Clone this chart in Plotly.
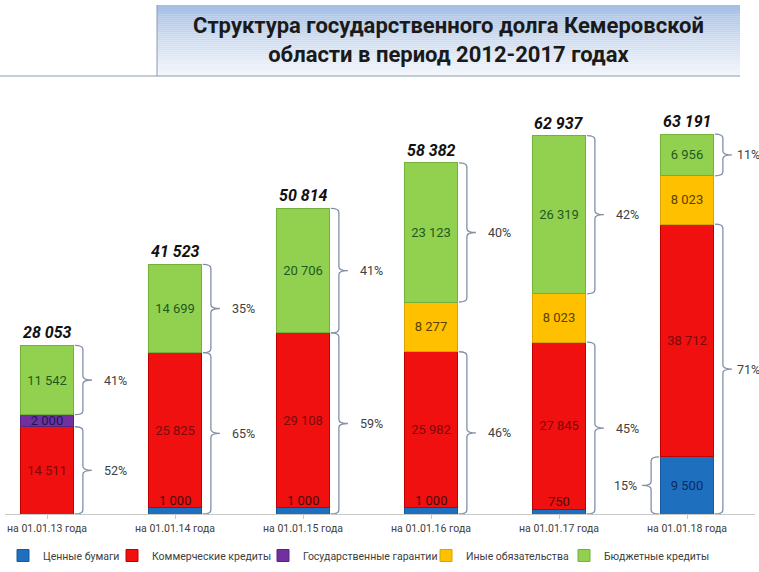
import plotly.graph_objects as go

# data
categories = ["на 01.01.13 года", "на 01.01.14 года", "на 01.01.15 года",
              "на 01.01.16 года", "на 01.01.17 года", "на 01.01.18 года"]
securities = [0, 1000, 1000, 1000, 750, 9500]          # Ценные бумаги
commercial = [14511, 25825, 29108, 25982, 27845, 38712]  # Коммерческие кредиты
guarantees = [2000, 0, 0, 0, 0, 0]                      # Государственные гарантии
other = [0, 0, 0, 8277, 8023, 8023]                     # Иные обязательства
budget = [11542, 14699, 20706, 23123, 26319, 6956]      # Бюджетные кредиты
totals = [28053, 41523, 50814, 58382, 62937, 63191]
budget_pct = ["41%", "35%", "41%", "40%", "42%", "11%"]
commercial_pct = ["52%", "65%", "59%", "46%", "45%", "71%"]
securities_pct = ["", "", "", "", "", "15%"]

FONT = "Roboto"
x = list(range(len(categories)))
BW = 0.42
PX = 1 / 128.0            # one pixel in x data units
PY = 72180 / 434.0        # one pixel in y data units


def fmt(v):
    return "{:,}".format(v).replace(",", " ") if v else ""


series = [
    ("Ценные бумаги", securities, "#1f6fbf", "#175a9c", "#0d2a5c"),
    ("Коммерческие кредиты", commercial, "#f01010", "#c00000", "#7a0a0a"),
    ("Государственные гарантии", guarantees, "#7030a0", "#582480", "#1a1a50"),
    ("Иные обязательства", other, "#ffc000", "#d9a300", "#5a4000"),
    ("Бюджетные кредиты", budget, "#92d050", "#74b03a", "#1e5a1e"),
]
# left edge of each legend entry text, px
legend_text_x = [43, 152, 303, 466, 604]

L, W, T, H = 5, 750, 80, 434


def px2x(p):
    return (p - L) / W


def py2y(p):
    return (T + H - p) / H


fig = go.Figure()
legends = {}
for k, (name, vals, col, edge, tcol) in enumerate(series):
    lid = "legend" if k == 0 else "legend%d" % (k + 1)
    # thin segments get their label above them as annotations
    txt = [fmt(v) if v >= 1500 else "" for v in vals]
    fig.add_trace(go.Bar(
        x=x, y=vals, name=name, width=BW, legend=lid,
        marker=dict(color=col, line=dict(color=edge, width=1)),
        text=txt, textposition="inside", insidetextanchor="middle",
        textangle=0, textfont=dict(family=FONT, size=13, color=tcol),
        hoverinfo="skip",
    ))
    legends[lid] = dict(orientation="h", xref="container", yref="container",
                        x=(legend_text_x[k] - 40) / 759.0, y=1 - 541 / 572.0,
                        xanchor="left", yanchor="top", bgcolor="rgba(0,0,0,0)",
                        font=dict(family=FONT, size=10.5, color="#404040"),
                        itemwidth=30)

ann = []
shapes = []

# labels for thin blue segments
for i, v in enumerate(securities):
    if 0 < v < 1500:
        ann.append(dict(x=i, y=v, text=fmt(v), showarrow=False, yanchor="bottom",
                        yshift=-2, font=dict(family=FONT, size=13, color="#4a0a0a")))

# totals on top
for i, t in enumerate(totals):
    ann.append(dict(x=i, y=t, text="<b><i>%s</i></b>" % fmt(t), showarrow=False,
                    yanchor="bottom", yshift=1,
                    font=dict(family=FONT, size=16, color="#111111")))


def brace(xe, y0, y1, side=1):
    a = xe + side * 1 * PX
    b = xe + side * 9 * PX
    c = xe + side * 18 * PX
    r = 4 * PY
    ym = (y0 + y1) / 2
    return ("M {a},{y1} Q {b},{y1} {b},{t1} L {b},{m1} Q {b},{ym} {c},{ym} "
            "Q {b},{ym} {b},{m0} L {b},{t0} Q {b},{y0} {a},{y0}").format(
        a=a, b=b, c=c, y1=y1, t1=y1 - r, m1=ym + r, ym=ym, m0=ym - r,
        t0=y0 + r, y0=y0)


gaps = [10, 10, 10, 10, 10, 3]
bc = "#8090a8"
pct_font = dict(family=FONT, size=12.5, color="#404040")
for i in x:
    xr = i + BW / 2
    top = totals[i]
    gb = top - budget[i]
    red_top = securities[i] + commercial[i]
    for y0, y1, lab in [(gb, top, budget_pct[i]), (0, red_top, commercial_pct[i])]:
        shapes.append(dict(type="path", path=brace(xr, y0, y1), xref="x", yref="y",
                           line=dict(color=bc, width=1.3)))
        ann.append(dict(x=xr + (18 + gaps[i]) * PX, y=(y0 + y1) / 2, text=lab,
                        showarrow=False, xanchor="left", yanchor="middle", font=pct_font))
    if securities_pct[i]:
        xl = i - BW / 2
        shapes.append(dict(type="path", path=brace(xl, 0, securities[i], -1),
                           xref="x", yref="y", line=dict(color=bc, width=1.3)))
        ann.append(dict(x=xl - 21 * PX, y=securities[i] / 2, text=securities_pct[i],
                        showarrow=False, xanchor="right", yanchor="middle", font=pct_font))

# title band with a vertical gradient
n = 36
top_c = (165, 192, 230)
bot_c = (244, 247, 252)
for k in range(n):
    f = k / (n - 1)
    c = tuple(int(top_c[j] + (bot_c[j] - top_c[j]) * f) for j in range(3))
    shapes.append(dict(type="rect", xref="paper", yref="paper",
                       x0=px2x(157), x1=px2x(740),
                       y0=py2y(5 + 71 * (k + 1) / n), y1=py2y(5 + 71 * k / n),
                       line=dict(width=0), fillcolor="rgb(%d,%d,%d)" % c, layer="below"))
shapes.append(dict(type="line", xref="paper", yref="paper", x0=px2x(157), x1=px2x(157),
                   y0=py2y(5), y1=py2y(76), line=dict(color="#8a9ab0", width=1)))
shapes.append(dict(type="line", xref="paper", yref="paper", x0=px2x(0), x1=px2x(740),
                   y0=py2y(76), y1=py2y(76), line=dict(color="#8a9ab0", width=1)))
ann.append(dict(xref="paper", yref="paper", x=px2x(448), y=py2y(40),
                xanchor="center", yanchor="middle",
                text="<b>Структура государственного долга Кемеровской<br>"
                     "области в период 2012-2017 годах</b>",
                showarrow=False, font=dict(family=FONT, size=22, color="#1a1a1a")))

fig.update_layout(
    width=759, height=572,
    margin=dict(l=L, r=759 - L - W, t=T, b=572 - T - H),
    paper_bgcolor="white", plot_bgcolor="white",
    barmode="stack",
    showlegend=True,
    uniformtext=dict(mode="show", minsize=11),
    annotations=ann, shapes=shapes,
    xaxis=dict(range=[-(47 - L) / 128.0, -(47 - L) / 128.0 + W / 128.0],
               tickmode="array", tickvals=x, ticktext=categories,
               showline=True, linecolor="#c8c8c8", ticks="outside", ticklen=4,
               tickcolor="#c8c8c8", showgrid=False, zeroline=False,
               tickfont=dict(family=FONT, size=10.5, color="#404040")),
    yaxis=dict(range=[0, 72180], visible=False, showgrid=False),
)
fig.update_layout(**legends)

# drop the default page margin so the figure sits at the window's corner
fig.write_html("out.html", config={"displayModeBar": False},
               post_script="document.body.style.margin='0';")
